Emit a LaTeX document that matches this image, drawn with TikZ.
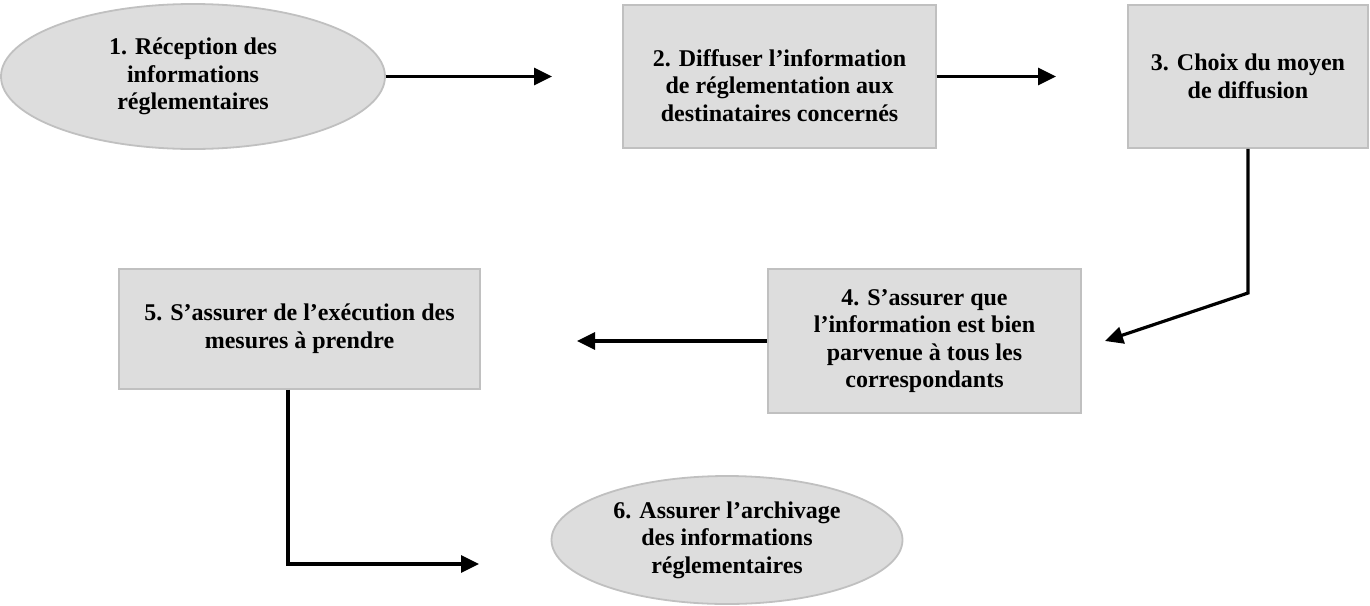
\documentclass[tikz,border=0pt]{standalone}
\usepackage{fontspec}
\setmainfont{Liberation Serif}
\usetikzlibrary{shapes.geometric,arrows.meta}

\definecolor{boxfill}{RGB}{221,221,221}
\definecolor{boxline}{RGB}{192,192,192}

\tikzset{
  texte/.style={align=center, inner sep=0pt, font=\fontsize{12}{13.8}\selectfont\bfseries},
  etape/.style={texte, draw=boxline, line width=0.9pt, fill=boxfill, inner sep=2pt},
  etaperect/.style={etape, rectangle},
  etapeovale/.style={etape, ellipse},
  fleche/.style={line width=1.6pt, -{Triangle[length=9pt,width=8.5pt]}},
}

\begin{document}
\begin{tikzpicture}[x=0.5pt,y=0.5pt,yscale=-1,xscale=1]
\useasboundingbox (0,0) rectangle (1370,605);

%Ellipse [reception]
\node [etapeovale, minimum width=192pt, minimum height=72.5pt] (recep) at (193,76.5) {1. Réception des\\informations\\réglementaires};
%Rectangle [diffuser]
\node [etaperect, minimum width=156.5pt, minimum height=71.5pt,
  label={[texte, yshift=-4.5pt]center:{2. Diffuser l’information\\de réglementation aux\\destinataires concernés}}] (diffus) at (779.5,76.5) {};
%Rectangle [choix]
\node [etaperect, minimum width=120pt, minimum height=71.5pt] (choix) at (1248,76.5) {3. Choix du moyen\\de diffusion};
%Rectangle [assurer]
\node [etaperect, minimum width=156.5pt, minimum height=72pt] (assur) at (924.5,341) {4. S’assurer que\\l’information est bien\\parvenue à tous les\\correspondants};
%Rectangle [execution]
\node [etaperect, minimum width=180.5pt, minimum height=60pt] (execu) at (299.5,329) {5. S’assurer de l’exécution des\\mesures à prendre};
%Ellipse [archivage]
\node [etapeovale, minimum width=175.5pt, minimum height=64pt] (archiv) at (727,540) {6. Assurer l’archivage\\des informations\\réglementaires};

%Arrow ends and bends
\coordinate (tip12) at (552,76.5);
\coordinate (tip23) at (1056,76.5);
\coordinate (bend3) at (1248,293);
\coordinate (tip34) at (1105,341);
\coordinate (tip45) at (577,341);
\coordinate (bend5) at (288,564);
\coordinate (tip56) at (479,564);

%Straight Lines
\draw [fleche] (recep.east) -- (tip12);
\draw [fleche] (diffus.east) -- (tip23);
\draw [fleche] (choix.south) -- (bend3) -- (tip34);
\draw [fleche] (assur.west) -- (tip45);
\draw [fleche] (execu.south -| bend5) -- (bend5) -- (tip56);

\end{tikzpicture}
\end{document}
